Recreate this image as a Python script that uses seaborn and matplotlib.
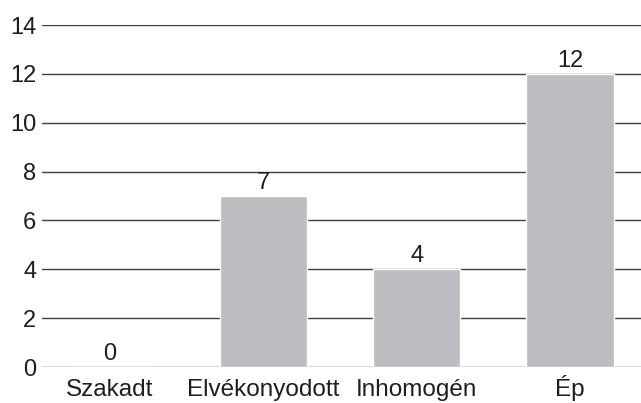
import matplotlib
matplotlib.use("Agg")
import matplotlib.pyplot as plt
import seaborn as sns
import pandas as pd

# --- DATA ---
categories = ["Szakadt", "Elvékonyodott", "Inhomogén", "Ép"]
values = [0, 7, 4, 12]
y_ticks = [0, 2, 4, 6, 8, 10, 12, 14]

BAR_COLOR = "#bcbdc1"
LINE_COLOR = "#404040"
TEXT_COLOR = "#1e1e1e"
FS = 17.5

sns.set_style("white")
plt.rcParams['font.family'] = ['Liberation Sans', 'DejaVu Sans']

df = pd.DataFrame({"cat": categories, "val": values})

fig = plt.figure(figsize=(6.41, 4.03), dpi=100)
ax = fig.add_axes([42 / 641, (403 - 367) / 403, 599 / 641, (367 - 25) / 403])

ax.set_axisbelow(True)
ax.yaxis.grid(True, color=LINE_COLOR, linewidth=1.0)
ax.xaxis.grid(False)

sns.barplot(data=df, x="cat", y="val", color=BAR_COLOR, width=0.57,
            saturation=1, ax=ax)

for c in ax.containers:
    ax.bar_label(c, fmt="%d", padding=1.5, fontsize=17, color=TEXT_COLOR)

ax.set_ylim(0, 14)
ax.set_yticks(y_ticks)
ax.set_xlim(-0.444, 3.463)
ax.set_xlabel("")
ax.set_ylabel("")
for s in ax.spines.values():
    s.set_visible(False)
ax.tick_params(axis="y", length=0, pad=4, labelsize=17, labelcolor=TEXT_COLOR)
# baseline-aligned category labels so the accent on "Ép" doesn't push it down
ax.tick_params(axis="x", length=0, pad=21, labelsize=FS, labelcolor=TEXT_COLOR)
for lbl in ax.get_xticklabels():
    lbl.set_va("baseline")

fig.savefig("out.png", dpi=100)
